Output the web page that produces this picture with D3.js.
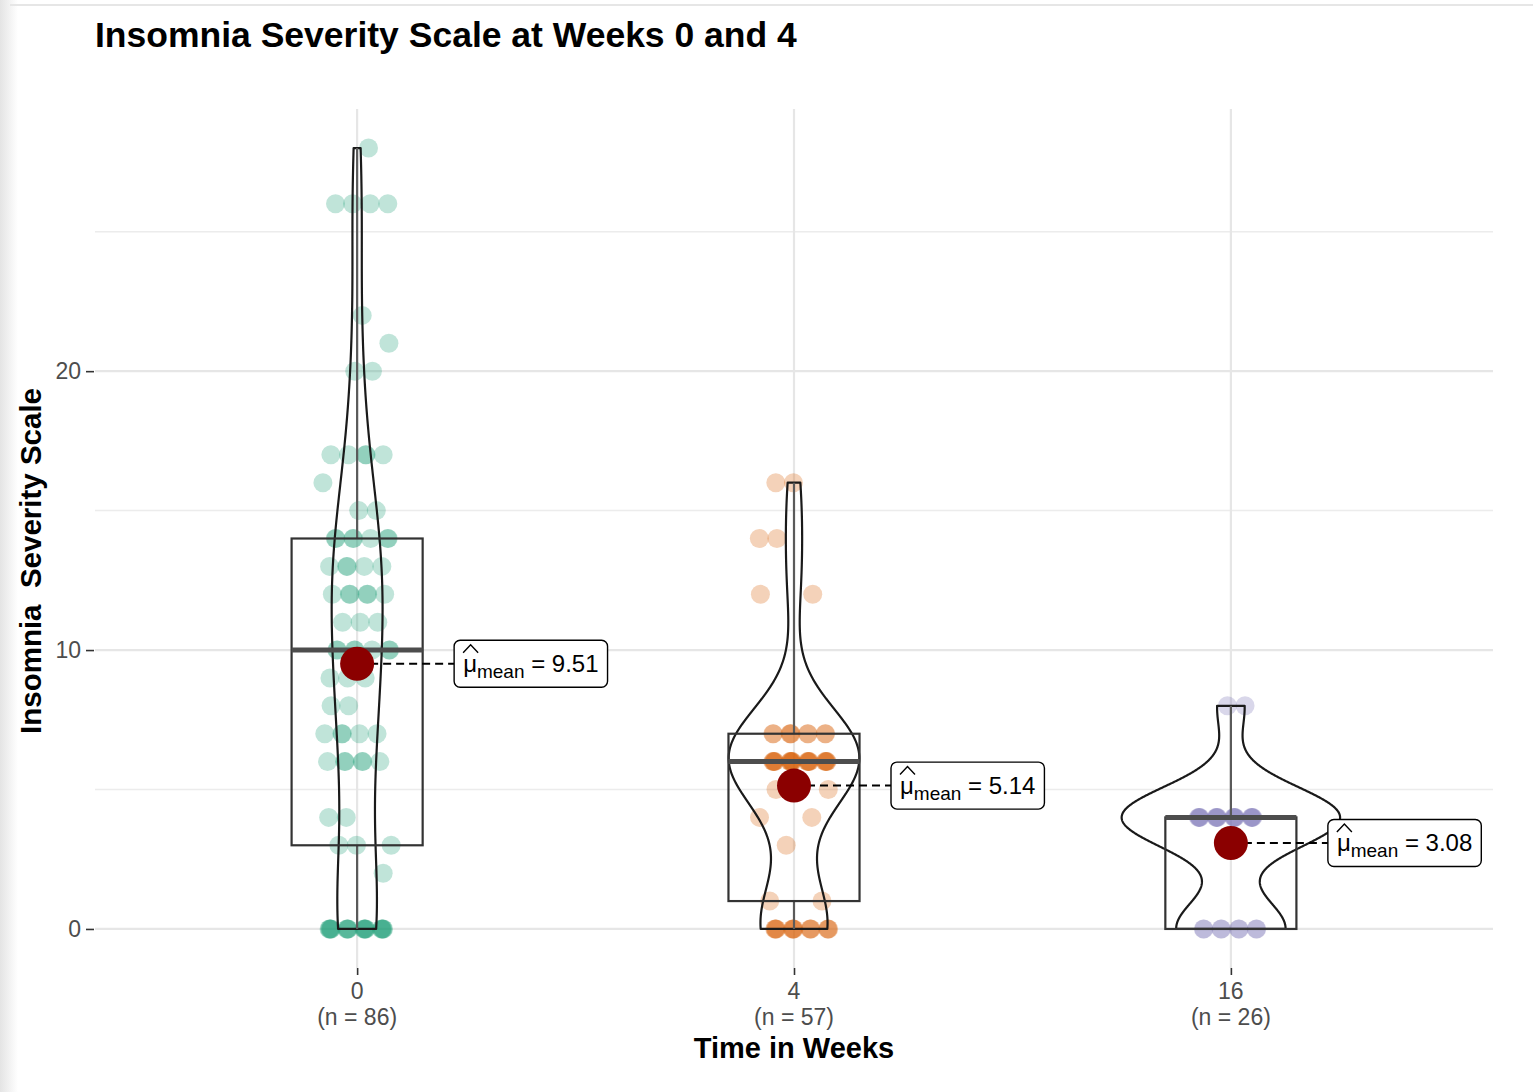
<!DOCTYPE html>
<html><head><meta charset="utf-8">
<script src="https://cdn.jsdelivr.net/npm/d3@7"></script>
<style>
body{margin:0;background:#fff;}
text{font-family:"Liberation Sans",Arial,Helvetica,sans-serif;}
</style>
</head><body>
<svg id="chart" width="1533" height="1092"></svg>
<script>
// ---------------- data ----------------
const chartTitle = "Insomnia Severity Scale at Weeks 0 and 4";
const xTitle = "Time in Weeks";
const yTitle = "Insomnia\u00A0 Severity Scale";
const categories = ["0", "4", "16"];
const sampleSizes = [86, 57, 26];
const yTicks = [0, 10, 20];
const yMinorTicks = [5, 15, 25];

const week0Values = [0,0,0,0,0,0,0,0,0,0,0,0,0,0,0,0,0,0,0, 2, 3,3,3, 4,4,
  6,6,6,6,6,6, 7,7,7,7,7, 8,8, 9,9,9, 10,10,10,10,10,10,10, 11,11,11,
  12,12,12,12,12,12, 13,13,13,13,13, 14,14,14,14,14,14,14, 15,15, 16,
  17,17,17,17,17, 20,20, 21, 22, 26,26,26,26, 28];
const week4Values = [0,0,0,0,0,0,0,0,0,0,0,0,0,0, 1,1, 3, 4,4, 5,5,
  6,6,6,6,6,6,6,6,6,6,6,6,6,6,6,6,6,6,6,6,6, 7,7,7,7,7,7,7,7,7,
  12,12, 14,14, 16,16];
const week16Values = [0,0,0,0,0,0,0,0, 4,4,4,4,4,4,4,4,4,4,4,4,4,4,4,4, 8,8];

// box summaries
const boxQ1 = [3, 1, 0];
const boxMedian = [10, 6, 4];
const boxQ3 = [14, 7, 4];
const whiskerLow = [0, 0, 0];
const whiskerHigh = [28, 16, 8];
const groupMeans = [9.51, 5.14, 3.08];

const groupColors = ["#1B9E77", "#D95F02", "#7570B3"];
const groups = [week0Values, week4Values, week16Values];

// ---------------- layout ----------------
const svg = d3.select("#chart");
const panel = {left: 95, right: 1493, top: 109, bottom: 968};

const defs = svg.append("defs");
const lg = defs.append("linearGradient").attr("id","edge").attr("x1","0").attr("x2","1").attr("y1","0").attr("y2","0");
lg.append("stop").attr("offset","0").attr("stop-color","#e4e4e4");
lg.append("stop").attr("offset","1").attr("stop-color","#ffffff");
svg.append("rect").attr("x",0).attr("y",0).attr("width",18).attr("height",1092).attr("fill","url(#edge)");
svg.append("line").attr("x1",10).attr("x2",1533).attr("y1",5).attr("y2",5).attr("stroke","#e6e6e6").attr("stroke-width",2);

const x = d3.scaleLinear().domain([0.4, 3.6]).range([panel.left, panel.right]);
const y = d3.scaleLinear().domain([-1.4, 29.4]).range([panel.bottom, panel.top]);
const unit = x(2) - x(1);

// grid
const grid = svg.append("g");
grid.selectAll(".minor").data(yMinorTicks).join("line")
  .attr("x1", panel.left).attr("x2", panel.right)
  .attr("y1", d => y(d)).attr("y2", d => y(d))
  .attr("stroke", "#ececec").attr("stroke-width", 1.5);
grid.selectAll(".major").data(yTicks).join("line")
  .attr("x1", panel.left).attr("x2", panel.right)
  .attr("y1", d => y(d)).attr("y2", d => y(d))
  .attr("stroke", "#e6e6e6").attr("stroke-width", 2.2);
grid.selectAll(".vmajor").data(categories).join("line")
  .attr("x1", (d,i) => x(i+1)).attr("x2", (d,i) => x(i+1))
  .attr("y1", panel.top).attr("y2", panel.bottom)
  .attr("stroke", "#e6e6e6").attr("stroke-width", 2.2);

// axes
const yAxis = d3.axisLeft(y).tickValues(yTicks).tickSize(8).tickPadding(5);
const gy = svg.append("g").attr("transform", `translate(${panel.left - 1},0)`).call(yAxis);
gy.select(".domain").remove();
gy.selectAll(".tick line").attr("stroke", "#333").attr("stroke-width", 1.6);
gy.selectAll(".tick text").attr("font-size", 23).attr("fill", "#4d4d4d")
  .attr("font-family", "Liberation Sans, Arial, sans-serif");

const xAxis = d3.axisBottom(x).tickValues([1,2,3]).tickSize(7).tickFormat(() => "");
const gx = svg.append("g").attr("transform", `translate(0,${panel.bottom})`).call(xAxis);
gx.select(".domain").remove();
gx.selectAll(".tick line").attr("stroke", "#333").attr("stroke-width", 1.6);
const xl = svg.append("g");
categories.forEach((c, i) => {
  const t = xl.append("text").attr("x", x(i+1)).attr("text-anchor", "middle")
    .attr("font-size", 23).attr("fill", "#4d4d4d");
  t.append("tspan").attr("x", x(i+1)).attr("y", 999).text(c);
  t.append("tspan").attr("x", x(i+1)).attr("y", 1025).text(`(n = ${sampleSizes[i]})`);
});

// titles
svg.append("text").attr("x", 95).attr("y", 47).attr("font-size", 35.5).attr("font-weight", "bold")
  .attr("fill", "#000").text(chartTitle);
svg.append("text").attr("x", (panel.left + panel.right)/2).attr("y", 1058).attr("text-anchor", "middle")
  .attr("font-size", 29).attr("font-weight", "bold").attr("fill", "#000").text(xTitle);
svg.append("text").attr("transform", "translate(41,561) rotate(-90)").attr("text-anchor", "middle")
  .attr("font-size", 29.5).attr("font-weight", "bold").attr("fill", "#000")
  .style("white-space", "pre").text(yTitle);

// ---------------- points (deterministic spread) ----------------
const pts = svg.append("g");
groups.forEach((vals, gi) => {
  const seen = {};
  vals.forEach((v, i) => {
    const k = (seen[v] = (seen[v] || 0) + 1);
    const frac = ((i * 0.6180339887 + gi * 0.37 + k * 0.13) % 1);
    const dx = (frac - 0.5) * 2 * 0.08 * unit;
    pts.append("circle")
      .attr("cx", x(gi + 1) + dx).attr("cy", y(v)).attr("r", 9.5)
      .attr("fill", groupColors[gi]).attr("fill-opacity", 0.28);
  });
});

// ---------------- violins (KDE, trimmed, scale = area) ----------------
const bwAdjust = 1.0;
function bwNrd0(arr) {
  const s = d3.deviation(arr);
  const sorted = arr.slice().sort((a,b) => a-b);
  const iqr = d3.quantileSorted(sorted, 0.75) - d3.quantileSorted(sorted, 0.25);
  let lo = Math.min(s, iqr / 1.34);
  if (!lo) lo = s || 1;
  return 0.9 * lo * Math.pow(arr.length, -0.2);
}
function kde(arr) {
  const h = bwNrd0(arr) * bwAdjust, n = arr.length;
  const lo = d3.min(arr), hi = d3.max(arr);
  const out = [];
  for (let j = 0; j <= 511; j++) {
    const t = lo + (hi - lo) * j / 511;
    let s = 0;
    for (const v of arr) { const z = (t - v) / h; s += Math.exp(-0.5 * z * z); }
    out.push([t, s / (n * h * Math.sqrt(2 * Math.PI))]);
  }
  return out;
}
const dens = groups.map(kde);
const maxD = d3.max(dens, d => d3.max(d, e => e[1]));
const halfW = 0.25 * unit;
const vio = svg.append("g");
dens.forEach((d, gi) => {
  const cx = x(gi + 1);
  const right = d.map(e => [cx + halfW * e[1] / maxD, y(e[0])]);
  const left = d.slice().reverse().map(e => [cx - halfW * e[1] / maxD, y(e[0])]);
  vio.append("path").attr("d", d3.line()(right.concat(left)) + "Z")
    .attr("fill", "none").attr("stroke", "#1a1a1a").attr("stroke-width", 2.2)
    .attr("stroke-linejoin", "round");
});

// ---------------- boxplots ----------------
const bx = svg.append("g");
const boxHalf = 0.15 * unit;
categories.forEach((c, gi) => {
  const cx = x(gi + 1);
  bx.append("line").attr("x1", cx).attr("x2", cx).attr("y1", y(boxQ3[gi])).attr("y2", y(whiskerHigh[gi]))
    .attr("stroke", "#5a5a5a").attr("stroke-width", 2.2);
  bx.append("line").attr("x1", cx).attr("x2", cx).attr("y1", y(boxQ1[gi])).attr("y2", y(whiskerLow[gi]))
    .attr("stroke", "#5a5a5a").attr("stroke-width", 2.2);
  bx.append("rect").attr("x", cx - boxHalf).attr("width", 2 * boxHalf)
    .attr("y", y(boxQ3[gi])).attr("height", y(boxQ1[gi]) - y(boxQ3[gi]))
    .attr("fill", "none").attr("stroke", "#333").attr("stroke-width", 2.2);
  bx.append("line").attr("x1", cx - boxHalf).attr("x2", cx + boxHalf)
    .attr("y1", y(boxMedian[gi])).attr("y2", y(boxMedian[gi]))
    .attr("stroke", "#4d4d4d").attr("stroke-width", 5);
});

// ---------------- means and labels ----------------
const mg = svg.append("g");
categories.forEach((c, gi) => {
  const cx = x(gi + 1), cy = y(groupMeans[gi]);
  const lx = cx + 97;
  mg.append("line").attr("x1", cx).attr("x2", lx).attr("y1", cy).attr("y2", cy)
    .attr("stroke", "#000").attr("stroke-width", 2).attr("stroke-dasharray", "8 5");
  mg.append("circle").attr("cx", cx).attr("cy", cy).attr("r", 17).attr("fill", "#8B0000");
  const lab = mg.append("g");
  const rect = lab.append("rect");
  const t = lab.append("text").attr("x", lx + 9).attr("y", cy + 8).attr("font-size", 24).attr("fill", "#000");
  t.append("tspan").text("\u03BC");
  t.append("tspan").attr("dy", 6).attr("font-size", 19).text("mean");
  t.append("tspan").attr("dy", -6).text(" = " + groupMeans[gi].toFixed(2));
  const bb = t.node().getBBox();
  rect.attr("x", lx).attr("y", cy - 23.5).attr("width", bb.width + 18).attr("height", 47)
    .attr("rx", 6).attr("fill", "#fff").attr("stroke", "#000").attr("stroke-width", 1.4);
  // hat over mu
  const hx = lx + 9, hw = 15, hy = cy - 19;
  lab.append("path").attr("d", d3.line()([[hx, hy + 8], [hx + hw/2, hy], [hx + hw, hy + 8]]))
    .attr("fill", "none").attr("stroke", "#000").attr("stroke-width", 1.4);
});
</script>
</body></html>
